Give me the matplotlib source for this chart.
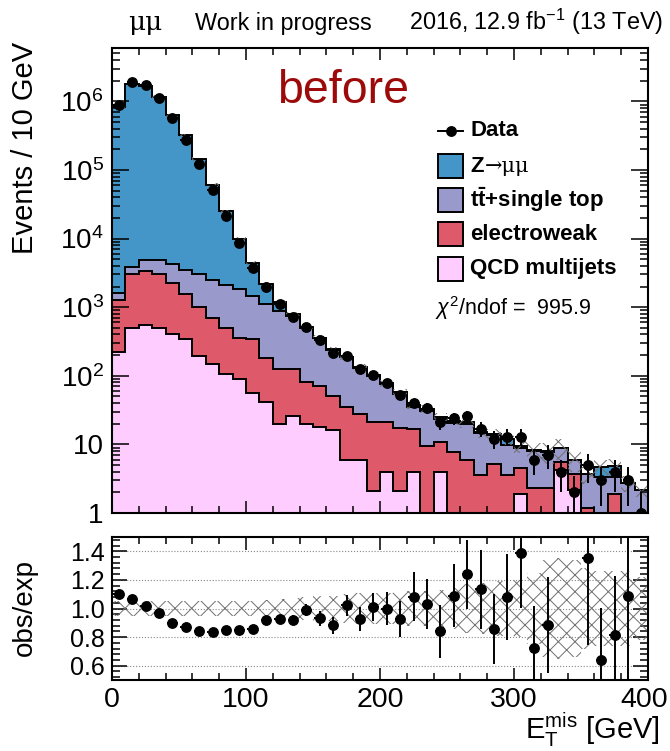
import numpy as np
import matplotlib
matplotlib.use("Agg")
import matplotlib.pyplot as plt
from matplotlib.patches import Rectangle
from matplotlib.lines import Line2D
from matplotlib.transforms import ScaledTranslation
from matplotlib.ticker import MultipleLocator, LogLocator, NullFormatter, FuncFormatter, FixedLocator

plt.rcParams['font.family'] = ['Liberation Sans', 'DejaVu Sans']
plt.rcParams['mathtext.fontset'] = 'custom'
plt.rcParams['mathtext.rm'] = 'Liberation Sans'
plt.rcParams['mathtext.it'] = 'Liberation Sans:italic'
plt.rcParams['mathtext.bf'] = 'Liberation Sans:bold'
plt.rcParams['hatch.linewidth'] = 0.7

# MET bins, 10 GeV wide
bin_edges = np.arange(0, 410, 10)

data_counts = [900000, 1900000, 1730000, 1130000, 567000, 278000, 122400, 51100, 21200, 8510,
               3784, 1996, 1097, 725, 515, 335, 216, 194, 126, 104,
               78, 53, 40, 34, 21, 24, 26, 17, 12, 13,
               13, 6, 7, 4, 2, 5, 3, 4, 3, 1]

qcd = [220, 500, 550, 490, 410, 340, 195, 148, 106, 90,
       57, 41, 20, 26, 20, 18, 16, 5.9, 5.9, 2.1,
       4.0, 2.1, 4.0, 0, 4.0, 0, 0, 0, 0, 0,
       1.9, 0, 0, 4.2, 2.2, 0, 0, 0, 0, 0]
ewk = [1070, 2500, 2850, 2510, 1830, 1220, 805, 552, 384, 270,
       283, 143, 105, 99, 60, 54, 35, 29, 22, 19,
       17, 15, 13, 9.5, 7, 7.7, 5.9, 3.6, 5.1, 3.6,
       2.7, 2.3, 2.3, 1.3, 1.5, 1.2, 0, 1.9, 0, 0]
ttbar_st = [310, 900, 1400, 1800, 1960, 1940, 2000, 1800, 1650, 1490,
            1100, 936, 745, 615, 420, 278, 189, 150, 104, 79,
            55, 38, 18, 21.5, 12.5, 12.8, 14.1, 10.9, 8.4, 6.1,
            4.2, 5.6, 5.5, 3.5, 2.2, 2.5, 3.4, 1.5, 2.76, 2.2]
zmumu = [818000, 1776000, 1695000, 1165000, 626000, 316500, 142000, 58500, 22900, 8150,
         2960, 1050, 310, 50, 20, 10, 5, 5, 4, 3,
         2, 2, 2, 2, 1.5, 1.5, 1.0, 0.5, 0.5, 2.3,
         0.55, 0.4, 0.1, 0, 0, 0, 1.3, 1.5, 0, 0]
# relative MC stat uncertainty
mc_unc = [0.055, 0.055, 0.055, 0.055, 0.055, 0.055, 0.055, 0.055, 0.055, 0.055,
          0.055, 0.06, 0.065, 0.07, 0.08, 0.085, 0.09, 0.10, 0.11, 0.11,
          0.11, 0.12, 0.12, 0.12, 0.13, 0.14, 0.17, 0.18, 0.19, 0.19,
          0.20, 0.25, 0.34, 0.35, 0.34, 0.28, 0.26, 0.26, 0.26, 0.22]

samples = ['QCD multijets', 'electroweak', r'$\mathbf{t\bar{t}}$+single top', 'Z']
colors = ['#ffccff', '#de5a6a', '#9999cc', '#4496c8']

W, H = 670, 751
fig = plt.figure(figsize=(W / 100, H / 100), dpi=100)


def box(l, t, r, b):
    return [l / W, 1 - b / H, (r - l) / W, (b - t) / H]


def fx(px):
    return px / W


def fy(py):
    return 1 - py / H


ax = fig.add_axes(box(112, 48, 648, 513))
rax = fig.add_axes(box(112, 537, 648, 680))

centers = 0.5 * (bin_edges[1:] + bin_edges[:-1])
tiny = 1e-3

# stacked histogram
levels = []
cum = np.zeros(len(centers))
for vals in [qcd, ewk, ttbar_st, zmumu]:
    cum = cum + np.array(vals, dtype=float)
    levels.append(cum.copy())
total = levels[-1]

for lev, c in reversed(list(zip(levels, colors))):
    ax.stairs(np.where(lev > 0, lev, tiny), bin_edges, baseline=tiny, fill=True,
              facecolor=c, edgecolor='none')
for lev in levels:
    ax.stairs(np.where(lev > 0, lev, tiny), bin_edges, color='black', linewidth=1.4)

unc = np.array(mc_unc)
ax.stairs(total * (1 + unc), bin_edges, baseline=total * (1 - unc), fill=True,
          facecolor='none', edgecolor='#707070', hatch='xx', linewidth=0)

d = np.array(data_counts, dtype=float)
err = np.sqrt(d)
lo = np.minimum(err, d - tiny)
ax.errorbar(centers, d, yerr=[lo, err], xerr=4, fmt='o', color='black', ms=6.8,
            elinewidth=1.4, capsize=0, zorder=5)

ax.set_yscale('log')
ax.set_xlim(0, 400)
ax.set_ylim(1, 6e6)
ax.yaxis.set_major_locator(LogLocator(base=10, numticks=12))
ax.yaxis.set_minor_locator(LogLocator(base=10, subs=np.arange(2, 10), numticks=12))
ax.yaxis.set_minor_formatter(NullFormatter())


def log_label(v, pos):
    e = int(round(np.log10(v)))
    if e == 0:
        return '1'
    if e == 1:
        return '10'
    return r'$\mathregular{10^{%d}}$' % e


ax.yaxis.set_major_formatter(FuncFormatter(log_label))
ax.xaxis.set_major_locator(MultipleLocator(100))
ax.xaxis.set_minor_locator(MultipleLocator(20))
ax.tick_params(axis='both', which='both', direction='in', top=True, right=True,
               labelbottom=False, width=1.1)
ax.tick_params(axis='y', which='major', length=12, labelsize=20, pad=6)
ax.tick_params(axis='y', which='minor', length=6)
ax.tick_params(axis='x', which='major', length=8.5)
ax.tick_params(axis='x', which='minor', length=5)
for s in ax.spines.values():
    s.set_linewidth(1.5)

# ratio panel
ratio = d / total
rerr = err / total
ok = (ratio > 0.5) & (ratio < 1.5)
rax.stairs(1 + unc, bin_edges, baseline=1 - unc, fill=True, facecolor='none',
           edgecolor='#707070', hatch='xx', linewidth=0)
rax.errorbar(centers[ok], ratio[ok], yerr=rerr[ok], xerr=4, fmt='o', color='black',
             ms=6.8, elinewidth=1.4, capsize=0, zorder=5)
rax.set_xlim(0, 400)
rax.set_ylim(0.5, 1.5)
rax.set_xticks([0, 100, 200, 300, 400])
rax.set_yticks([0.6, 0.8, 1.0, 1.2, 1.4])
minor_y = [v / 100 for v in range(52, 150, 4) if v % 20 != 0]
rax.yaxis.set_minor_locator(FixedLocator(minor_y))
rax.yaxis.set_major_formatter(FuncFormatter(lambda v, p: '%.1f' % v))
rax.xaxis.set_minor_locator(FixedLocator([v for v in range(20, 400, 20) if v % 100 != 0]))
rax.yaxis.grid(True, which='major', linestyle=':', color='#888888', linewidth=0.8)
rax.set_axisbelow(True)
rax.tick_params(axis='both', which='both', direction='in', top=True, right=True, width=1.1)
rax.tick_params(axis='x', which='major', labelsize=20.5, pad=5)
rax.tick_params(axis='y', which='major', labelsize=18, pad=5)
rax.tick_params(axis='y', which='major', length=11)
rax.tick_params(axis='y', which='minor', length=6)
rax.tick_params(axis='x', which='major', length=9)
rax.tick_params(axis='x', which='minor', length=5)
for s in rax.spines.values():
    s.set_linewidth(1.5)

# keep the 400 label inside the canvas
fig.canvas.draw()
for tk in rax.xaxis.get_major_ticks():
    if abs(tk.get_loc() - 400) < 1e-6:
        tk.label1.set_transform(tk.label1.get_transform()
                                + ScaledTranslation(-4 / 100, 0, fig.dpi_scale_trans))

# axis titles
fig.text(fx(25), fy(42), 'Events / 10 GeV', rotation=90, ha='center', va='top', fontsize=21)
fig.text(fx(25), fy(607), 'obs/exp', rotation=90, ha='center', va='center', fontsize=20)
fig.text(fx(660), fy(739), r'E$_{\mathregular{T}}^{\mathregular{mis}}$ [GeV]', ha='right',
         va='baseline', fontsize=21)

# header
fig.text(fx(128), fy(30), 'μμ', family='DejaVu Serif', fontsize=19, va='baseline')
fig.text(fx(195), fy(30), 'Work in progress', fontsize=16.8, va='baseline')
fig.text(fx(663), fy(30), r'2016, 12.9 fb$^{\mathregular{-1}}$ (13 TeV)', fontsize=16.8,
         ha='right', va='baseline')
fig.text(fx(277), fy(103), 'before', color='#9c0a0a', fontsize=33.5, va='baseline')

# legend
lx0, lx1, tx = 438, 463, 470
fig.add_artist(Line2D([fx(lx0), fx(lx1)], [fy(131), fy(131)], color='black', lw=1.4,
                      transform=fig.transFigure))
fig.add_artist(Line2D([fx(451)], [fy(131)], color='black', marker='o', ms=6.8,
                      transform=fig.transFigure))
fig.text(fx(tx), fy(131), 'Data', fontsize=16, fontweight='bold', va='center')
rows = [(166, 3), (200, 2), (234, 1), (269, 0)]
for yc, i in rows:
    fig.add_artist(Rectangle((fx(lx0), fy(yc + 12)), (lx1 - lx0) / W, 24 / H,
                             facecolor=colors[i], edgecolor='black', lw=1.4,
                             transform=fig.transFigure))
    if i == 3:
        fig.text(fx(tx), fy(yc), 'Z', fontsize=16, fontweight='bold', va='center')
        fig.text(fx(tx + 15), fy(yc), '→μμ', family='DejaVu Serif', fontsize=15, va='center')
    else:
        fig.text(fx(tx), fy(yc), samples[i], fontsize=16, fontweight='bold', va='center')
fig.text(fx(435), fy(308), r'$\chi^{2}$/ndof =  995.9', fontsize=15.5, va='center')

fig.savefig('out.png', dpi=100)
